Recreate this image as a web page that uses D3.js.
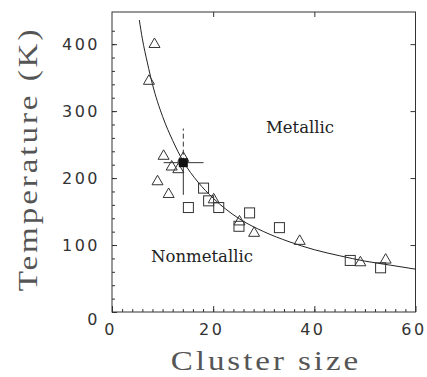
<!DOCTYPE html>
<html>
<head>
<meta charset="utf-8">
<script src="https://cdn.jsdelivr.net/npm/d3@7"></script>
<style>
  body { margin: 0; background: #fff; }
  svg { display: block; }
</style>
</head>
<body>
<svg id="chart" width="427" height="377"></svg>
<script>
// data
const triN = [8.4, 7.3, 10.2, 11.8, 13.1, 14.1, 9.0, 11.2, 20.1, 25.2, 28.1, 37.1, 49.1, 54.1];
const triT = [401, 346, 234, 218, 214, 231, 196, 177, 169, 136, 119, 107, 75, 79];

const sqN = [15.1, 18.1, 19.1, 21.1, 25.1, 27.2, 33.1, 47.1, 53.1];
const sqT = [156, 185, 166, 156, 128, 148, 126, 77, 66];

// filled point with error bars
const fillN = [14.1];
const fillT = [223];
const errN = [10.2, 18.1];
const errT = [175, 274];

// fitted curve, as traced
const curveN = [5.4, 6, 7, 8, 10, 12, 14, 17, 20, 25, 30, 35, 40, 45, 50, 55, 60];
const curveT = [436, 408, 372, 340, 292, 256, 226, 194, 170, 140, 120, 105, 93, 84, 76, 70, 64];

const xTicks = [0, 20, 40, 60];
const yTicks = [0, 100, 200, 300, 400];

const svg = d3.select("#chart");
const margin = {left: 112, right: 11.5, top: 12, bottom: 65};
const width = 427 - margin.left - margin.right;
const height = 377 - margin.top - margin.bottom;

const x = d3.scaleLinear().domain([0, 60]).range([0, width]);
const y = d3.scaleLinear().domain([0, 448]).range([height, 0]);

const g = svg.append("g").attr("transform", `translate(${margin.left},${margin.top})`);
const ink = "#333";

// minor ticks
g.append("g")
    .attr("transform", `translate(0,${height})`)
    .call(d3.axisBottom(x).tickValues(d3.range(2, 60, 2)).tickSizeInner(-3).tickSizeOuter(0).tickFormat(""));
g.append("g")
    .call(d3.axisLeft(y).tickValues(d3.range(20, 440, 20)).tickSizeInner(-3).tickSizeOuter(0).tickFormat(""));

// major ticks + labels
const xAxis = g.append("g")
    .attr("transform", `translate(0,${height})`)
    .call(d3.axisBottom(x).tickValues(xTicks).tickSizeInner(-6).tickSizeOuter(0).tickPadding(12));
const yAxis = g.append("g")
    .call(d3.axisLeft(y).tickValues(yTicks).tickSizeInner(-5).tickSizeOuter(0).tickPadding(12));

g.append("g")
    .call(d3.axisTop(x).tickValues([20, 40]).tickSizeInner(-5).tickSizeOuter(0).tickFormat(""));
g.append("g")
    .attr("transform", `translate(${width},0)`)
    .call(d3.axisRight(y).tickValues([100, 200, 300, 400]).tickSizeInner(-5).tickSizeOuter(0).tickFormat(""));

g.selectAll(".domain").remove();
g.selectAll(".tick line").attr("stroke", ink);

g.selectAll(".tick text")
    .attr("fill", ink)
    .style("font-family", "DejaVu Sans")
    .style("font-size", "16px")
    .style("letter-spacing", "2.5px");
xAxis.selectAll(".tick text").attr("dx", "-2px");
yAxis.selectAll(".tick text").attr("dx", "0").filter(d => d === 0).attr("dy", "0.75em");

// frame
g.append("rect")
    .attr("width", width)
    .attr("height", height)
    .attr("fill", "none")
    .attr("stroke", ink)
    .attr("stroke-width", 1);

// curve
const line = d3.line()
    .x((d, i) => x(curveN[i]))
    .y((d, i) => y(curveT[i]))
    .curve(d3.curveMonotoneX);
g.append("path")
    .datum(curveN)
    .attr("d", line)
    .attr("fill", "none")
    .attr("stroke", "#222")
    .attr("stroke-width", 1);

// triangles
g.selectAll(".tri")
    .data(triN)
    .join("path")
    .attr("class", "tri")
    .attr("transform", (d, i) => `translate(${x(d)},${y(triT[i])})`)
    .attr("d", "M0,-5.5L5.5,4L-5.5,4Z")
    .attr("fill", "none")
    .attr("stroke", ink)
    .attr("stroke-width", 1);

// squares
g.selectAll(".sq")
    .data(sqN)
    .join("rect")
    .attr("class", "sq")
    .attr("x", d => x(d) - 5)
    .attr("y", (d, i) => y(sqT[i]) - 5)
    .attr("width", 10)
    .attr("height", 10)
    .attr("fill", "none")
    .attr("stroke", ink)
    .attr("stroke-width", 1);

// error bars of filled point
const fx = x(fillN[0]), fy = y(fillT[0]);
g.append("line")
    .attr("x1", x(errN[0])).attr("x2", x(errN[1]))
    .attr("y1", fy).attr("y2", fy)
    .attr("stroke", ink);
g.append("line")
    .attr("x1", fx).attr("x2", fx)
    .attr("y1", y(errT[0])).attr("y2", fy)
    .attr("stroke", ink);
g.append("line")
    .attr("x1", fx).attr("x2", fx)
    .attr("y1", fy).attr("y2", y(errT[1]))
    .attr("stroke", ink)
    .attr("stroke-dasharray", "5,3");

g.selectAll(".fill")
    .data(fillN)
    .join("rect")
    .attr("class", "fill")
    .attr("x", d => x(d) - 4.5)
    .attr("y", (d, i) => y(fillT[i]) - 4.5)
    .attr("width", 9)
    .attr("height", 9)
    .attr("fill", "#111");

// region labels
function region(label, cx, base) {
    g.append("text")
        .attr("x", cx - margin.left)
        .attr("y", base - margin.top)
        .attr("text-anchor", "middle")
        .attr("fill", "#222")
        .style("font-family", "DejaVu Serif")
        .style("font-size", "16.5px")
        .text(label);
}
region("Metallic", 300, 133);
region("Nonmetallic", 202, 262);

// axis titles: wide, thin serif -> Liberation Serif stretched a bit and spaced
function title(label, transform) {
    svg.append("text")
        .attr("transform", transform + " scale(1.18,1)")
        .attr("text-anchor", "middle")
        .attr("fill", "#555")
        .style("font-family", "Liberation Serif")
        .style("font-size", "28px")
        .style("letter-spacing", "2.5px")
        .text(label);
}
title("Cluster size", "translate(266,370)");
title("Temperature (K)", "translate(37,159) rotate(-90)");
</script>
</body>
</html>
